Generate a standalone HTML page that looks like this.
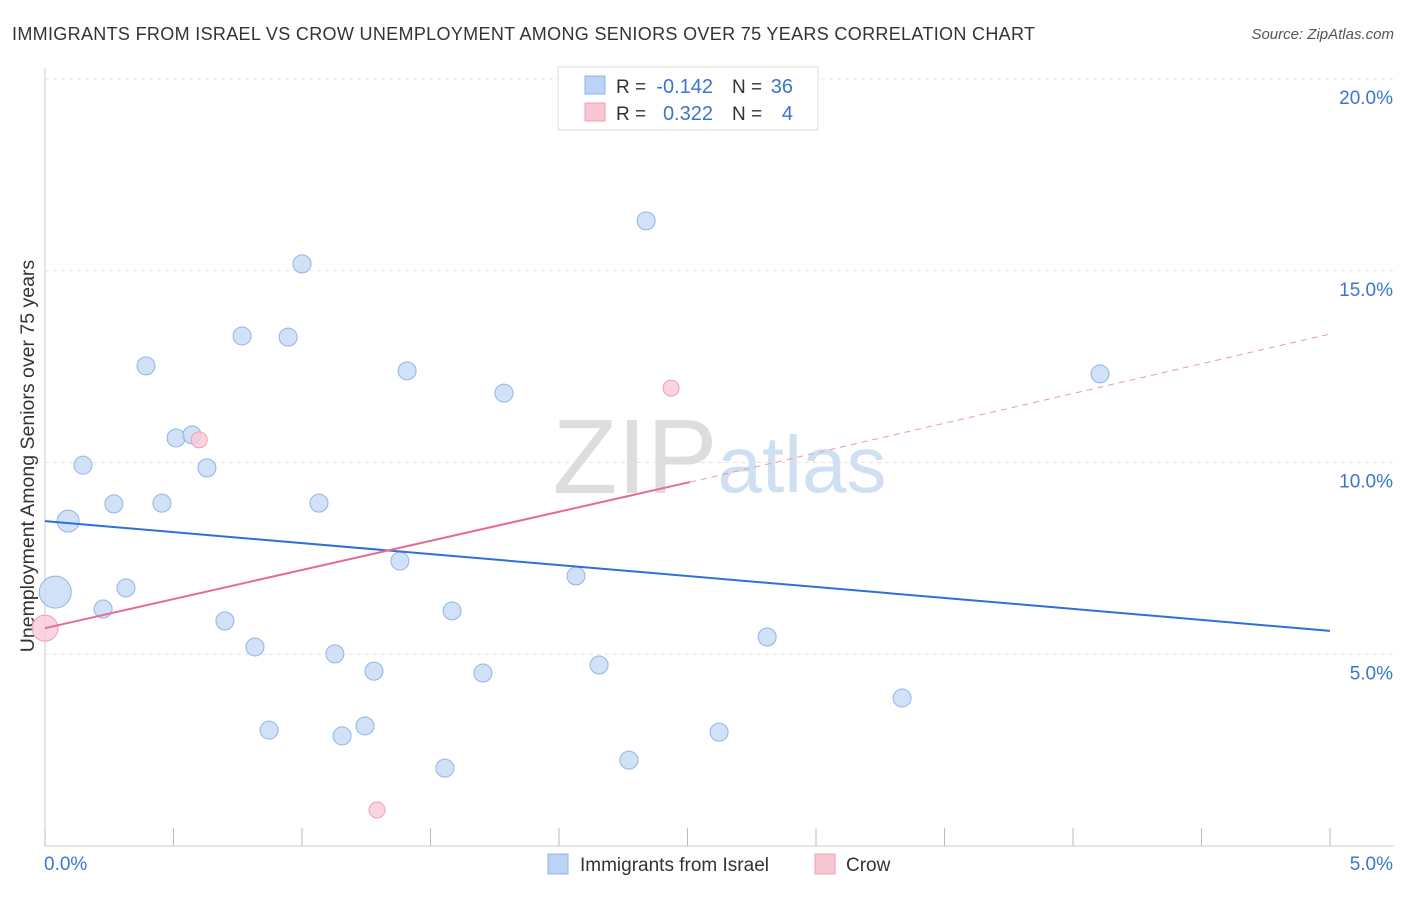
<!DOCTYPE html>
<html><head><meta charset="utf-8"><style>
body{margin:0;background:#fff;font-family:"Liberation Sans",sans-serif;}
svg text{font-family:"Liberation Sans",sans-serif;}
</style></head><body>
<svg id="c" width="1406" height="892">
<text x="12" y="40" font-size="18" fill="#333" textLength="1023">IMMIGRANTS FROM ISRAEL VS CROW UNEMPLOYMENT AMONG SENIORS OVER 75 YEARS CORRELATION CHART</text>
<text x="1394" y="39" font-size="15" fill="#555" text-anchor="end" font-style="italic">Source: ZipAtlas.com</text>
<text x="635" y="493" font-size="106" fill="#ddd" font-family="Liberation Serif" text-anchor="middle">ZIP</text>
<text x="802" y="492" font-size="80" fill="#cfe0f3" text-anchor="middle">atlas</text>
<text transform="translate(34,456) rotate(-90)" font-size="19.5" fill="#333" text-anchor="middle">Unemployment Among Seniors over 75 years</text>
<g id="grid"></g><g id="marks"></g>
<g>
<rect x="558" y="67" width="260" height="63" fill="#fff" stroke="#ddd"/>
<rect x="585" y="76" width="20" height="18" fill="#b9d4f5" stroke="#8fb5e6"/>
<rect x="585" y="103" width="20" height="18" fill="#f9c6d4" stroke="#ee9fb6"/>
<text x="616" y="93" font-size="19" fill="#333">R =</text>
<text x="713" y="93" font-size="20" fill="#3a75d0" text-anchor="end">-0.142</text>
<text x="732" y="93" font-size="19" fill="#333">N =</text>
<text x="793" y="93" font-size="20" fill="#3a75d0" text-anchor="end">36</text>
<text x="616" y="120" font-size="19" fill="#333">R =</text>
<text x="713" y="120" font-size="20" fill="#3a75d0" text-anchor="end">0.322</text>
<text x="732" y="120" font-size="19" fill="#333">N =</text>
<text x="793" y="120" font-size="20" fill="#3a75d0" text-anchor="end">4</text>
</g>
<g>
<rect x="548" y="854" width="20" height="20" fill="#b9d4f5" stroke="#8fb5e6"/>
<text x="580" y="871" font-size="19" fill="#333">Immigrants from Israel</text>
<rect x="815" y="854" width="20" height="20" fill="#f9c6d4" stroke="#ee9fb6"/>
<text x="846" y="871" font-size="19" fill="#333">Crow</text>
</g>
</svg>
<script>
const yTicks=[5,10,15,20];
const yTickLabels=["5.0%","10.0%","15.0%","20.0%"];
const xTicks=[0,0.5,1,1.5,2,2.5,3,3.5,4,4.5,5];
const blueX=[0.04,0.09,0.148,0.226,0.268,0.315,0.393,0.455,0.51,0.572,0.63,0.70,0.767,0.817,0.872,0.946,1.0,1.066,1.128,1.156,1.245,1.28,1.381,1.409,1.556,1.584,1.704,1.786,2.066,2.156,2.272,2.339,2.623,2.81,3.335,4.105];
const blueY=[6.62,8.47,9.93,6.18,8.92,6.73,12.52,8.94,10.64,10.72,9.86,5.87,13.30,5.19,3.02,13.27,15.18,8.94,5.01,2.87,3.13,4.56,7.43,12.39,2.03,6.13,4.51,11.81,7.04,4.72,2.24,16.30,2.97,5.45,3.86,12.31];
const blueR=[16,11,9,9,9,9,9,9,9,9,9,9,9,9,9,9,9,9,9,9,9,9,9,9,9,9,9,9,9,9,9,9,9,9,9,9];
const pinkX=[0,0.6,2.436,1.292];
const pinkY=[5.68,10.59,11.94,0.94];
const pinkR=[13,8,8,8];
const blueTrend=[[0,8.47],[5,5.61]];
const pinkTrend=[[0,5.68],[2.51,9.49],[5,13.35]];
const X=v=>45+v/5*1285, Y=v=>846-v*38.35;
const NS="http://www.w3.org/2000/svg";
const gridG=document.getElementById('grid'), markG=document.getElementById('marks');
function mk(p,tag,a){const e=document.createElementNS(NS,tag);for(const k in a)e.setAttribute(k,a[k]);p.appendChild(e);return e;}
yTicks.forEach((t,i)=>{
 const l=mk(gridG,'line',{x1:45,x2:1394,y1:Y(t),y2:Y(t),stroke:'#e3e3e3','stroke-dasharray':'4,4'});
 
 
 const tx=mk(gridG,'text',{x:1393,y:Y(t)+25,'font-size':19,fill:'#3a75d0','text-anchor':'end'});
 tx.textContent=yTickLabels[i];
 
 
});
const topGrid=mk(gridG,'line',{x1:45,x2:1394,y1:79,y2:79,stroke:'#e3e3e3','stroke-dasharray':'4,4'});


const ya=mk(gridG,'line',{x1:45,x2:45,y1:68,y2:846,stroke:'#ccc'});


const xa=mk(gridG,'line',{x1:45,x2:1394,y1:846,y2:846,stroke:'#ccc'});


xTicks.forEach(t=>{const l=mk(gridG,'line',{x1:X(t),x2:X(t),y1:828,y2:846,stroke:'#bbb'});
 
 });
const xl0=mk(gridG,'text',{x:44,y:870,'font-size':19,fill:'#3a75d0'});xl0.textContent='0.0%';


const xl1=mk(gridG,'text',{x:1393,y:870,'font-size':19,fill:'#3a75d0','text-anchor':'end'});xl1.textContent='5.0%';


blueX.forEach((v,i)=>{const c=mk(markG,'circle',{cx:X(v),cy:Y(blueY[i]),r:blueR[i],fill:'#c4daf6','fill-opacity':0.8,stroke:'#8fb5e6','stroke-width':1});
 
 });
pinkX.forEach((v,i)=>{const c=mk(markG,'circle',{cx:X(v),cy:Y(pinkY[i]),r:pinkR[i],fill:'#f9cad7','fill-opacity':0.8,stroke:'#ee9fb6','stroke-width':1});
 
 });
const bl=mk(markG,'line',{x1:X(blueTrend[0][0]),y1:Y(blueTrend[0][1]),x2:X(blueTrend[1][0]),y2:Y(blueTrend[1][1]),stroke:'#2f6fd6','stroke-width':2});


const pl=mk(markG,'line',{x1:X(pinkTrend[0][0]),y1:Y(pinkTrend[0][1]),x2:X(pinkTrend[1][0]),y2:Y(pinkTrend[1][1]),stroke:'#e56b93','stroke-width':2});


const pd=mk(markG,'line',{x1:X(pinkTrend[1][0]),y1:Y(pinkTrend[1][1]),x2:X(pinkTrend[2][0]),y2:Y(pinkTrend[2][1]),stroke:'#e89ab3','stroke-width':1,'stroke-dasharray':'6,5'});


</script>
</body></html>
